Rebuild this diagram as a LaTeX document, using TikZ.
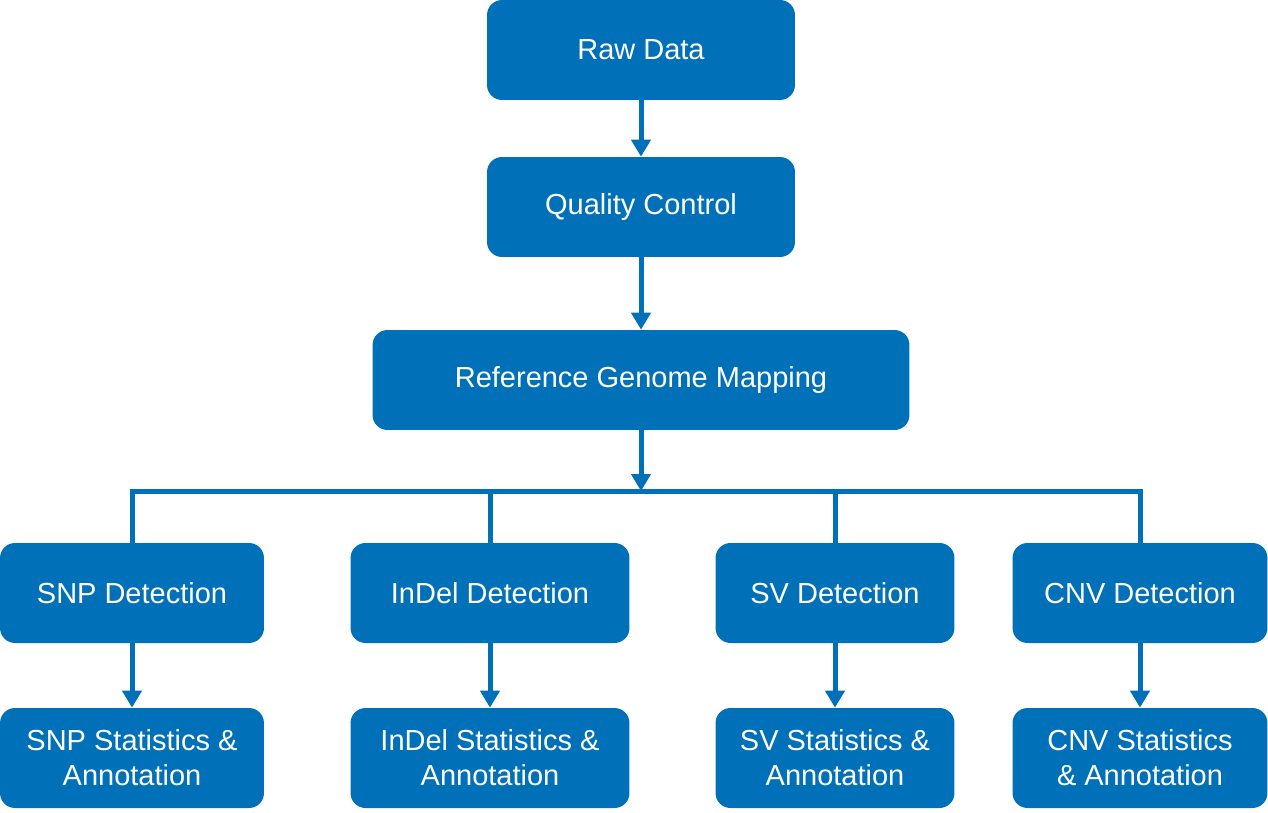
\documentclass[tikz,border=0pt]{standalone}
\usepackage{fontspec}
\setmainfont{Liberation Sans}
\usetikzlibrary{arrows.meta}
\definecolor{boxblue}{HTML}{0070B8}

\begin{document}
\begin{tikzpicture}[x=0.02cm, y=-0.02cm,
	box/.style={fill=boxblue, rounded corners=0.3cm, text=white, align=center,
		inner sep=0pt, minimum height=2cm, font=\fontsize{16.5}{20}\selectfont},
	link/.style={draw=boxblue, line width=0.1cm},
	arr/.style={link, -{Triangle[width=0.38cm, length=0.34cm]}}]
	\useasboundingbox (0,0) rectangle (1268,812);
	% main chain
	\node[box, minimum width=6.16cm] (raw) at (641,50) {Raw Data};
	\node[box, minimum width=6.16cm] (qc) at (641,207) {Quality Control};
	\node[box, minimum width=10.74cm] (map) at (641,380) {Reference Genome Mapping};
	% detection row
	\node[box, minimum width=5.28cm] (snpdet) at (132,593) {SNP Detection};
	\node[box, minimum width=5.58cm] (indeldet) at (490,593) {InDel Detection};
	\node[box, minimum width=4.78cm] (svdet) at (835,593) {SV Detection};
	\node[box, minimum width=5.10cm] (cnvdet) at (1140,593) {CNV Detection};
	% statistics row
	\node[box, minimum width=5.28cm] (snpstat) at (132,758) {SNP Statistics \&\\Annotation};
	\node[box, minimum width=5.58cm] (indelstat) at (490,758) {InDel Statistics \&\\Annotation};
	\node[box, minimum width=4.78cm] (svstat) at (835,758) {SV Statistics \&\\Annotation};
	\node[box, minimum width=5.10cm] (cnvstat) at (1140,758) {CNV Statistics\\\& Annotation};
	% connectors
	\coordinate (bus) at (641,491);
	\draw[arr] (raw) -- (qc);
	\draw[arr] (qc) -- (map);
	\draw[arr] (map) -- (bus);
	\draw[link] (snpdet.north) -- (snpdet.north |- bus) -- (cnvdet.north |- bus) -- (cnvdet.north);
	\foreach \n in {indeldet, svdet}
		\draw[link] (\n.north |- bus) -- (\n.north);
	\foreach \a/\b in {snpdet/snpstat, indeldet/indelstat, svdet/svstat, cnvdet/cnvstat}
		\draw[arr] (\a) -- (\b);
\end{tikzpicture}
\end{document}
